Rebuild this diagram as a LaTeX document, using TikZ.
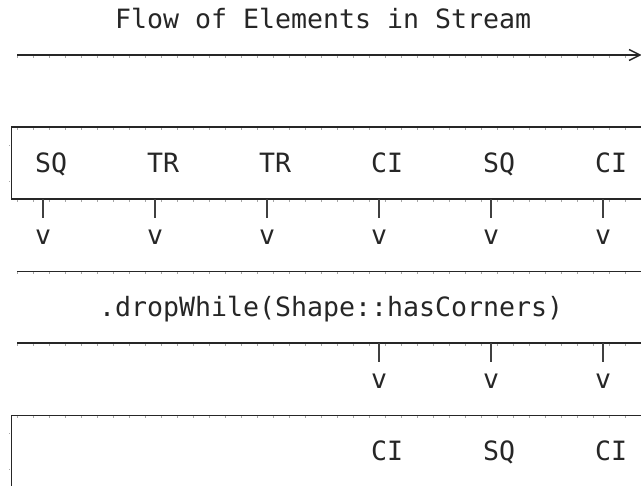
\documentclass[tikz,border=0pt]{standalone}
\usepackage{fontspec}
\newfontfamily\asciimono{DejaVu Sans Mono}
\begin{document}
\begin{tikzpicture}[x=1pt,y=-1pt,
  rule/.style={draw=black!85, line width=1.7pt},
  drop/.style={draw=black!75, line width=1.5pt},
  seam/.style={draw=black!35, line width=0.7pt},
  glyph/.style={anchor=base west, inner sep=0pt, outer sep=0pt, text=black!85,
                font=\asciimono\fontsize{26.58}{30}\selectfont}]
\useasboundingbox (0,0) rectangle (641,486);

% character-cell seams under every horizontal rule
\foreach \yy in {55,127,199,271.5,343,415.5}
  \foreach \k in {0,...,38}
    \draw[seam] (17.5+16*\k,\yy+1) -- (17.5+16*\k,\yy+2.6);
\foreach \yy in {145,181,433,469}
  \draw[seam] (9,\yy) -- (10.3,\yy);

% title and flow arrow
\node[glyph] (title) at (115,28.7) {Flow of Elements in Stream};
\coordinate (flowstart) at (17,55);
\coordinate (flowend) at (640,55);
\draw[rule] (flowstart) -- (flowend);
\draw[draw=black!85, line width=1.4pt] (629,49.5) -- (flowend) -- (629,60.5);

% input stream box
\draw[rule] (641,127) -- (11.5,127) -- (11.5,199) -- (641,199);
\node[glyph] (in1) at (35,172.7)  {SQ};
\node[glyph] (in2) at (147,172.7) {TR};
\node[glyph] (in3) at (259,172.7) {TR};
\node[glyph] (in4) at (371,172.7) {CI};
\node[glyph] (in5) at (483,172.7) {SQ};
\node[glyph] (in6) at (595,172.7) {CI};

% drops out of the input box
\foreach \i/\xx in {1/43,2/155,3/267,4/379,5/491,6/603}{
  \coordinate (a\i) at (\xx,199);
  \coordinate (b\i) at (\xx,218);
  \draw[drop] (a\i) -- (b\i);
}
\foreach \i/\xx in {1/35,2/147,3/259,4/371,5/483,6/595}
  \node[glyph] (v\i) at (\xx,244.7) {v};

% operation band
\coordinate (opl1) at (17,271.5);
\coordinate (opr1) at (641,271.5);
\draw[rule] (opl1) -- (opr1);
\node[glyph] (op) at (99,316.7) {.dropWhile(Shape::hasCorners)};
\coordinate (opl2) at (17,343);
\coordinate (opr2) at (641,343);
\draw[rule] (opl2) -- (opr2);

% drops into the output box
\foreach \i/\xx in {4/379,5/491,6/603}{
  \coordinate (c\i) at (\xx,343);
  \coordinate (d\i) at (\xx,362);
  \draw[drop] (c\i) -- (d\i);
}
\foreach \i/\xx in {4/371,5/483,6/595}
  \node[glyph] (w\i) at (\xx,388.7) {v};

% output stream box
\draw[rule] (641,415.5) -- (11.5,415.5) -- (11.5,486);
\node[glyph] (out4) at (371,460.7) {CI};
\node[glyph] (out5) at (483,460.7) {SQ};
\node[glyph] (out6) at (595,460.7) {CI};
\end{tikzpicture}
\end{document}
